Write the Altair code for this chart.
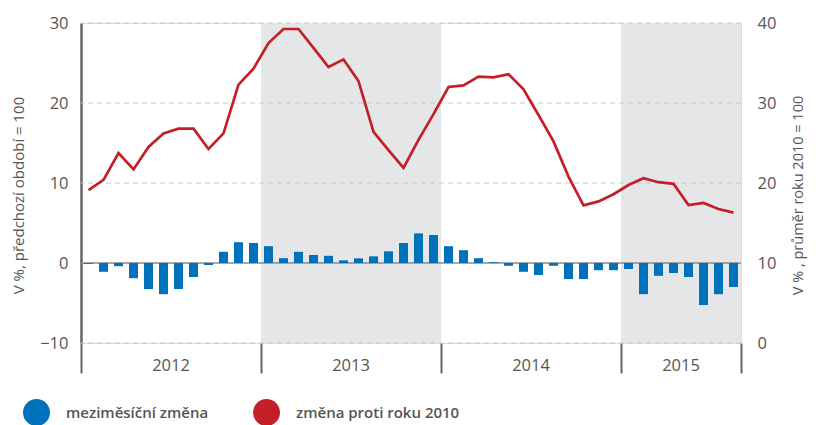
import altair as alt
import pandas as pd

# ---- data ----
years = ["2012", "2013", "2014", "2015"]
year_start = [0, 12, 24, 36]
year_end = [12, 24, 36, 44]
shaded = [False, True, False, True]

series_names = ["meziměsíční změna", "změna proti roku 2010"]

# month-on-month change (left axis), Jan 2012 .. Aug 2015
mom = [
    -0.1, -1.1, -0.4, -1.9, -3.25, -3.9, -3.25, -1.75, -0.25, 1.4, 2.6, 2.5,
    2.1, 0.6, 1.4, 1.0, 0.9, 0.33, 0.58, 0.83, 1.46, 2.5, 3.7, 3.5,
    2.1, 1.6, 0.6, 0.1, -0.35, -1.1, -1.5, -0.35, -2.0, -2.0, -0.9, -0.9,
    -0.75, -3.9, -1.6, -1.25, -1.75, -5.25, -3.9, -3.0,
]
# change vs 2010 average (right axis)
vs2010 = [
    19.1, 20.4, 23.75, 21.7, 24.5, 26.2, 26.8, 26.8, 24.25, 26.2, 32.3, 34.3,
    37.5, 39.25, 39.25, 36.9, 34.5, 35.45, 32.75, 26.4, 24.1, 21.9, 25.4, 28.6,
    32.0, 32.2, 33.3, 33.2, 33.6, 31.7, 28.5, 25.2, 20.8, 17.2, 17.7, 18.6,
    19.75, 20.6, 20.1, 19.9, 17.25, 17.5, 16.75, 16.3,
]
left_ticks = [-10, 0, 10, 20, 30]
right_ticks = [0, 10, 20, 30, 40]
grid_values = [-10, 10, 20, 30]

BLUE = "#0071bb"
RED = "#c41f28"
GRAY_TXT = "#555555"
FONT = "Open Sans"

n = len(mom)
df = pd.DataFrame({
    "m": [i + 0.5 for i in range(n)],
    "m0": [i + 0.2 for i in range(n)],
    "m1": [i + 0.8 for i in range(n)],
    "mom": mom,
    "vs": vs2010,
    "s1": series_names[0],
    "s2": series_names[1],
})
years_df = pd.DataFrame({
    "year": years,
    "start": year_start,
    "end": year_end,
    "mid": [(a + b) / 2 for a, b in zip(year_start, year_end)],
    "shaded": shaded,
})
grid_df = pd.DataFrame({"v": grid_values})

W, H = 660, 320

x_axis = alt.Axis(values=[0, 12, 24, 36, 44], labels=False, ticks=True, tickSize=30,
                  tickWidth=2, tickColor="#666666", domain=False, grid=False, title=None)
x_scale = alt.Scale(domain=[0, n], nice=False, zero=False, padding=0)
left_scale = alt.Scale(domain=[-10, 30], nice=False, zero=False)
right_scale = alt.Scale(domain=[0, 40], nice=False, zero=False)
color_scale = alt.Scale(domain=series_names, range=[BLUE, RED])

left_axis = alt.Axis(values=left_ticks, grid=False, ticks=False, domain=True,
                     domainColor="#666666", domainWidth=2.5, labelPadding=13,
                     labelFontSize=16.5, labelColor=GRAY_TXT, labelFont=FONT,
                     title="V %, předchozí období = 100", titleFontSize=15,
                     titleColor=GRAY_TXT, titleFont=FONT, titleFontWeight="normal",
                     titleAngle=270, titleAlign="center", titleBaseline="middle",
                     titleX=-63, titleY=172)

bands = alt.Chart(years_df).transform_filter(alt.datum.shaded).mark_rect(
    color="#e5e6e8").encode(
    x=alt.X("start:Q", scale=x_scale, axis=x_axis),
    x2="end:Q",
    y=alt.value(0),
    y2=alt.value(H),
)

grid = alt.Chart(grid_df).mark_rule(color="#c6c6c6", strokeWidth=1, strokeDash=[5, 4]).encode(
    y=alt.Y("v:Q", scale=left_scale, axis=left_axis),
)

zero = alt.Chart(pd.DataFrame({"v": [0]})).mark_rule(color="#8a8a8a", strokeWidth=1.6).encode(
    y=alt.Y("v:Q", scale=left_scale, axis=left_axis),
)

bars = alt.Chart(df).mark_bar().encode(
    x=alt.X("m0:Q", scale=x_scale, axis=x_axis),
    x2="m1:Q",
    y=alt.Y("mom:Q", scale=left_scale, axis=left_axis),
    y2=alt.datum(0),
    color=alt.Color("s1:N", scale=color_scale,
                    legend=alt.Legend(orient="none", legendX=-58, legendY=376,
                                      direction="horizontal", title=None,
                                      symbolType="circle", symbolSize=729,
                                      symbolStrokeWidth=0, symbolOpacity=1,
                                      labelFontSize=15, labelColor=GRAY_TXT,
                                      labelFont=FONT, labelFontWeight=600,
                                      labelOffset=16, columnPadding=44, padding=0,
                                      labelLimit=400)),
)

year_text = alt.Chart(years_df).mark_text(fontSize=16.5, color=GRAY_TXT, font=FONT,
                                          baseline="middle", align="center").encode(
    x=alt.X("mid:Q", scale=x_scale, axis=x_axis),
    y=alt.value(H + 23),
    text="year:N",
)

left_layer = alt.layer(bands, grid, zero, bars, year_text)

line = alt.Chart(df).mark_line(strokeWidth=2.7, strokeJoin="miter").encode(
    x=alt.X("m:Q", scale=x_scale, axis=x_axis),
    y=alt.Y("vs:Q", scale=right_scale,
            axis=alt.Axis(orient="right", values=right_ticks, grid=False, ticks=False,
                          domain=False, labelPadding=16, labelFontSize=16.5,
                          labelColor=GRAY_TXT, labelFont=FONT,
                          title="V % , průměr roku 2010 = 100", titleFontSize=14.5,
                          titleColor=GRAY_TXT, titleFont=FONT, titleFontWeight="normal",
                          titleAngle=270, titleAlign="center", titleBaseline="middle",
                          titleX=57, titleY=172)),
    color=alt.Color("s2:N", scale=color_scale, legend=None),
)

chart = alt.layer(left_layer, line).resolve_scale(y="independent").properties(
    width=W, height=H,
    autosize=alt.AutoSizeParams(type="none"),
    padding={"left": 73, "top": 15, "right": 67, "bottom": 82},
).configure_view(stroke=None).configure(font=FONT)

chart.save("out.html", embed_options={"renderer": "svg", "actions": False})
